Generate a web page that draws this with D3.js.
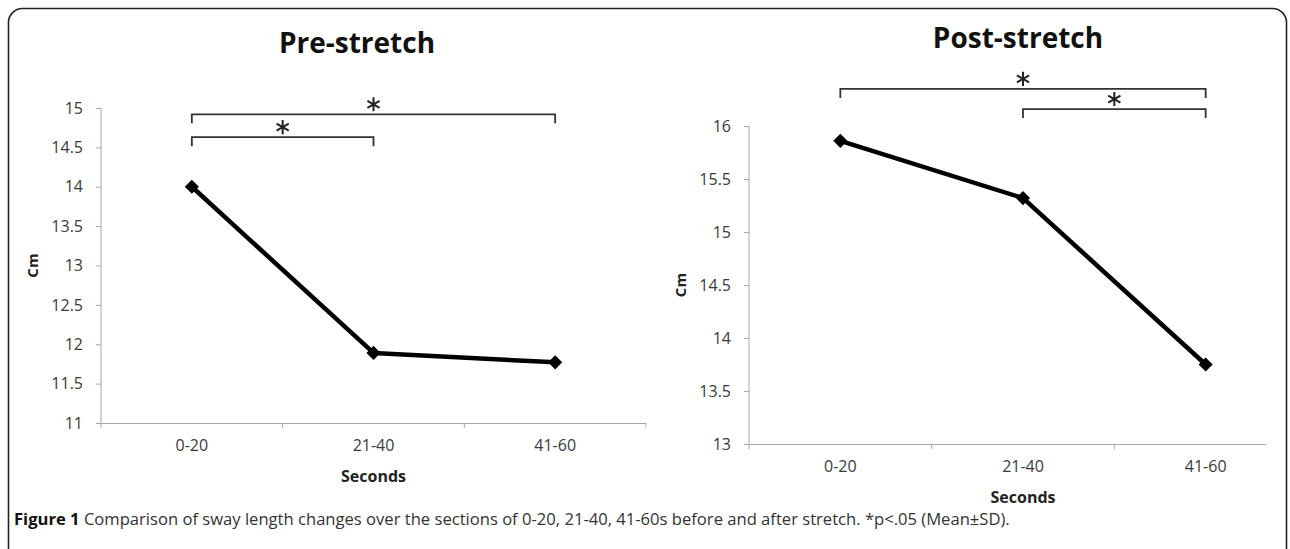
<!DOCTYPE html>
<html>
<head>
<meta charset="utf-8">
<script src="https://cdn.jsdelivr.net/npm/d3@7"></script>
<style>
  html, body { margin: 0; padding: 0; background: #fff; }
  svg { display: block; }
  text { font-family: "Open Sans", "DejaVu Sans", sans-serif; }
</style>
</head>
<body>
<svg id="chart" width="1290" height="549"></svg>
<script>
// ---- data ----
const categories = ["0-20", "21-40", "41-60"];
const preValues  = [14.0, 11.89, 11.77];
const postValues = [15.86, 15.32, 13.75];
const preTicks  = [11, 11.5, 12, 12.5, 13, 13.5, 14, 14.5, 15];
const postTicks = [13, 13.5, 14, 14.5, 15, 15.5, 16];
const preBracketFrom  = ["0-20", "0-20"];
const preBracketTo    = ["41-60", "21-40"];
const preBracketLevel = [14.92, 14.63];
const postBracketFrom  = ["0-20", "21-40"];
const postBracketTo    = ["41-60", "41-60"];
const postBracketLevel = [16.35, 16.16];
const titles = ["Pre-stretch", "Post-stretch"];
const xTitle = "Seconds";
const yTitle = "Cm";
const captionBold = "Figure 1";
const captionText = " Comparison of sway length changes over the sections of 0-20, 21-40, 41-60s before and after stretch. *p<.05 (Mean±SD).";

const svg = d3.select("#chart");

// outer frame
svg.append("rect")
  .attr("x", 8.5).attr("y", 8.5).attr("width", 1278).attr("height", 560)
  .attr("rx", 14).attr("ry", 14)
  .attr("fill", "none").attr("stroke", "#222").attr("stroke-width", 1.6);

const panels = [
  { title: titles[0], values: preValues, ticks: preTicks, domain: [11, 15],
    xr: [101, 646], yr: [423, 108], titleX: 357, titleY: 53, clipR: 646,
    bFrom: preBracketFrom, bTo: preBracketTo, bLevel: preBracketLevel },
  { title: titles[1], values: postValues, ticks: postTicks, domain: [13, 16],
    xr: [749, 1297], yr: [444, 126], titleX: 1018, titleY: 48, clipR: 1266,
    bFrom: postBracketFrom, bTo: postBracketTo, bLevel: postBracketLevel }
];

const axisGrey = "#a6a6a6";
const labelCol = "#3a3a3a";

panels.forEach((p, i) => {
  const x = d3.scaleBand().domain(categories).range(p.xr).padding(0);
  const y = d3.scaleLinear().domain(p.domain).range(p.yr);
  const g = svg.append("g");

  const clipId = "clip" + i;
  svg.append("clipPath").attr("id", clipId)
    .append("rect").attr("x", 0).attr("y", 0).attr("width", p.clipR + 0.5).attr("height", 549);

  // title
  g.append("text")
    .attr("x", p.titleX).attr("y", p.titleY)
    .attr("text-anchor", "middle")
    .attr("font-size", 28).attr("font-weight", 700).attr("fill", "#111")
    .text(p.title);

  // y axis
  const yAxis = d3.axisLeft(y).tickValues(p.ticks).tickSize(5).tickPadding(13)
    .tickFormat(d3.format("~g"));
  const yg = g.append("g").attr("transform", `translate(${p.xr[0]},0)`).call(yAxis);
  yg.select(".domain").attr("stroke", axisGrey).attr("d", `M0,${y.range()[0]}V${y.range()[1]}`);
  yg.selectAll(".tick line").attr("stroke", axisGrey);
  yg.selectAll(".tick text").attr("font-size", 16).attr("fill", labelCol)
    .attr("font-family", "'Open Sans', sans-serif");

  // x axis
  const xAxis = d3.axisBottom(x).tickSize(0).tickPadding(17).tickSizeOuter(0);
  const xg = g.append("g").attr("transform", `translate(0,${y(p.domain[0])})`)
    .attr("clip-path", `url(#${clipId})`).call(xAxis);
  xg.select(".domain").attr("stroke", axisGrey);
  xg.selectAll(".tick text").attr("font-size", 16).attr("fill", labelCol)
    .attr("font-family", "'Open Sans', sans-serif");
  // boundary tick marks
  const bounds = categories.map(c => x(c)).concat([x(categories[categories.length - 1]) + x.bandwidth()]);
  xg.selectAll(".bound").data(bounds).enter().append("line")
    .attr("class", "bound")
    .attr("x1", d => d).attr("x2", d => d).attr("y1", 0).attr("y2", 5)
    .attr("stroke", axisGrey);

  // axis titles
  g.append("text")
    .attr("x", (p.xr[0] + p.xr[1]) / 2).attr("y", y(p.domain[0]) + 59)
    .attr("text-anchor", "middle").attr("font-size", 16).attr("font-weight", 700)
    .attr("fill", "#222").text(xTitle);
  const ymid = (y.range()[0] + y.range()[1]) / 2;
  g.append("text")
    .attr("transform", `translate(${p.xr[0] - 63},${ymid}) rotate(-90)`)
    .attr("text-anchor", "middle").attr("font-size", 15).attr("font-weight", 700)
    .attr("fill", "#222").text(yTitle);

  // line
  const cx = c => x(c) + x.bandwidth() / 2;
  const line = d3.line().x((d, j) => cx(categories[j])).y(d => y(d));
  g.append("path").datum(p.values)
    .attr("d", line).attr("fill", "none").attr("stroke", "#000")
    .attr("stroke-width", 4.5).attr("stroke-linejoin", "round");

  // markers
  g.selectAll(".mk").data(p.values).enter().append("path")
    .attr("class", "mk")
    .attr("transform", (d, j) => `translate(${cx(categories[j])},${y(d)}) rotate(45)`)
    .attr("d", d3.symbol(d3.symbolSquare).size(100))
    .attr("fill", "#000");

  // significance brackets
  p.bLevel.forEach((lv, k) => {
    const x1 = cx(p.bFrom[k]), x2 = cx(p.bTo[k]), yy = y(lv);
    g.append("path")
      .attr("d", `M${x1},${yy + 9}V${yy}H${x2}V${yy + 9}`)
      .attr("fill", "none").attr("stroke", "#333").attr("stroke-width", 1.8);
    g.append("path")
      .attr("transform", `translate(${(x1 + x2) / 2},${yy - 10})`)
      .attr("d", d3.symbol(d3.symbolAsterisk).size(140))
      .attr("fill", "none").attr("stroke", "#222").attr("stroke-width", 2);
  });
});

// caption
const cap = svg.append("text").attr("x", 14).attr("y", 525)
  .attr("font-size", 16.6).attr("fill", "#333");
cap.append("tspan").attr("font-weight", 700).attr("fill", "#111").text(captionBold);
cap.append("tspan").text(captionText);
</script>
</body>
</html>
